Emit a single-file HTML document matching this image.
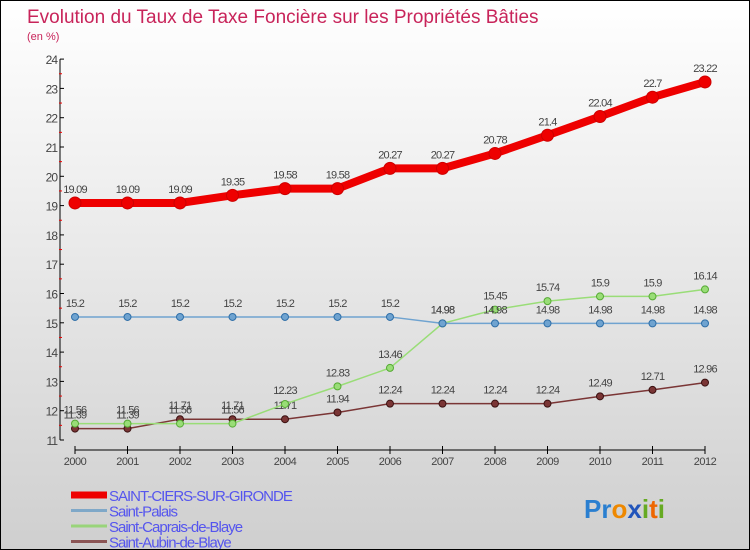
<!DOCTYPE html>
<html><head><meta charset="utf-8"><style>
body{margin:0}
#c{position:relative;width:748px;height:548px;border:1px solid #000;background:linear-gradient(#fff,#cfcfcf);font-family:"Liberation Sans",sans-serif;overflow:hidden}
</style></head><body>
<div id="c">
<svg width="748" height="548" id="s">
<text x="26" y="22" font-size="19" fill="#c8245a">Evolution du Taux de Taxe Foncière sur les Propriétés Bâties</text>
<text x="26" y="39" font-size="11" fill="#c8245a">(en %)</text>
</svg>
</div>
<script>
const years=["2000","2001","2002","2003","2004","2005","2006","2007","2008","2009","2010","2011","2012"];
const yTicks=[11,12,13,14,15,16,17,18,19,20,21,22,23,24];
const seriesNames=["SAINT-CIERS-SUR-GIRONDE","Saint-Palais","Saint-Caprais-de-Blaye","Saint-Aubin-de-Blaye"];
const redVals=[19.09,19.09,19.09,19.35,19.58,19.58,20.27,20.27,20.78,21.4,22.04,22.7,23.22];
const blueVals=[15.2,15.2,15.2,15.2,15.2,15.2,15.2,14.98,14.98,14.98,14.98,14.98,14.98];
const greenVals=[11.56,11.56,11.56,11.56,12.23,12.83,13.46,14.98,15.45,15.74,15.9,15.9,16.14];
const brownVals=[11.39,11.39,11.71,11.71,11.71,11.94,12.24,12.24,12.24,12.24,12.49,12.71,12.96];
const s=document.getElementById('s');const NS="http://www.w3.org/2000/svg";
function X(i){return 74+i*52.5}
function Y(v){return 439-(v-11)*29.3}
function mk(t,a,p){const e=document.createElementNS(NS,t);for(const k in a)e.setAttribute(k,a[k]);(p||s).appendChild(e);return e}
let ax=mk('line',{x1:59,y1:Y(24),x2:59,y2:Y(11),stroke:'#000'});


yTicks.forEach(v=>{
 mk('line',{x1:59,x2:63,y1:Y(v),y2:Y(v),stroke:'#000'});
 if(v<24)mk('line',{x1:58,x2:61,y1:Y(v+0.5),y2:Y(v+0.5),stroke:'#e00'});
 const t=mk('text',{x:56,y:Y(v)+5,'font-size':12,'text-anchor':'end',fill:'#444','letter-spacing':'-1'});t.textContent=v;
 
 
});
let xa=mk('line',{x1:X(0),y1:449,x2:X(12),y2:449,stroke:'#000'});


years.forEach((y,i)=>{
 mk('line',{x1:X(i),x2:X(i),y1:445,y2:453,stroke:'#000'});
 const t=mk('text',{x:X(i),y:464,'font-size':11,'text-anchor':'middle',fill:'#444','letter-spacing':'-0.5'});t.textContent=y;
 
 
});
function series(vals,color,dark,w,r,name){
 const g=mk('g',{});
 
 
 mk('polyline',{points:vals.map((v,i)=>X(i)+','+Y(v)).join(' '),fill:'none',stroke:color,'stroke-width':w},g);
 vals.forEach((v,i)=>{
  const c=mk('circle',{cx:X(i),cy:Y(v),r:r,fill:color,stroke:dark,'stroke-width':1},g);
  
  
  const t=mk('text',{x:X(i),y:Y(v)-10,'font-size':11,'text-anchor':'middle',fill:'#444','letter-spacing':'-0.8'},g);t.textContent=v;
  
  
 });
}
series(brownVals,'#7a3535','#3a1010',1.5,3.5,'series-saint-aubin');
series(greenVals,'#99dd77','#55aa33',1.5,3.5,'series-saint-caprais');
series(blueVals,'#6fa3d0','#2f6fa8',1.5,3.5,'series-saint-palais');
series(redVals,'#ee0000','#cc0000',8,6,'series-saint-ciers');
const lc=['#ee0000','#7fa8c8','#99d47a','#8b5555'],lw=[7,3,3,3];
seriesNames.forEach((n,i)=>{
 const y=494+i*15.5;
 const l=mk('line',{x1:70,x2:106,y1:y,y2:y,stroke:lc[i],'stroke-width':lw[i]});
 
 
 const t=mk('text',{x:108,y:y+6,'font-size':15,fill:'#5555ee','letter-spacing':'-1'});t.textContent=n;
 
 
});
const logo=mk('text',{x:583,y:517,'font-size':26,'font-weight':'bold'});


[['P','#2a7fd0'],['r','#2a7fd0'],['o','#ee8800'],['x','#2255bb'],['i','#66aa22'],['t','#ee6600'],['i','#66aa22']].forEach(([c,f])=>{const sp=mk('tspan',{fill:f},logo);sp.textContent=c;});
</script>
</body></html>
